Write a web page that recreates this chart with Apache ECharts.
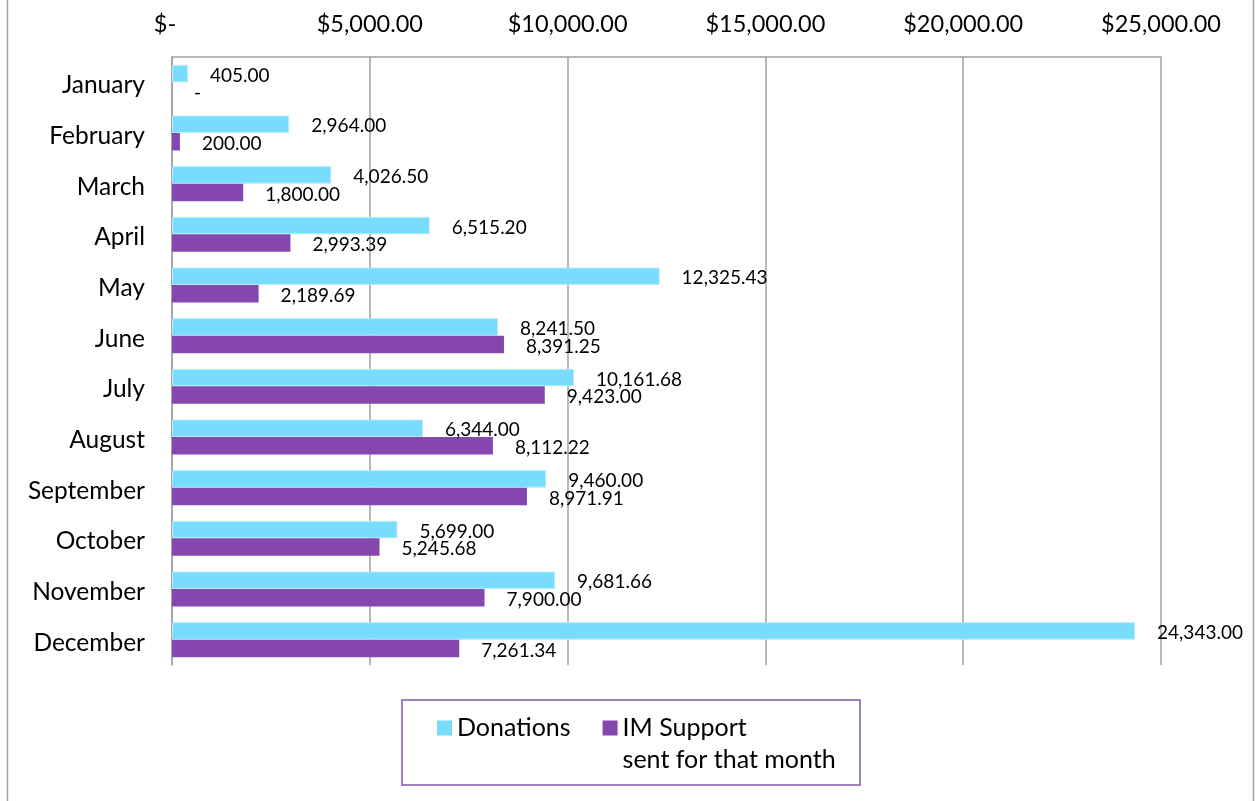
<!DOCTYPE html>
<html>
<head>
<meta charset="utf-8">
<script src="https://cdn.jsdelivr.net/npm/echarts@6/dist/echarts.min.js"></script>
<style>
  html, body { margin: 0; padding: 0; background: #fff; }
  #donations_chart { width: 1255px; height: 801px; }
</style>
</head>
<body>
<div id="donations_chart"></div>
<script>
// 月份 / categories
var months = ["January", "February", "March", "April", "May", "June", "July", "August", "September", "October", "November", "December"];
var donations = [405, 2964, 4026.5, 6515.2, 12325.43, 8241.5, 10161.68, 6344, 9460, 5699, 9681.66, 24343];
var imSupport = [0, 200, 1800, 2993.39, 2189.69, 8391.25, 9423, 8112.22, 8971.91, 5245.68, 7900, 7261.34];
var xTicks = [0, 5000, 10000, 15000, 20000, 25000];

var FONT = "Lato";

function money(v) {
  if (v === 0) return "-";
  return v.toLocaleString("en-US", { minimumFractionDigits: 2, maximumFractionDigits: 2 });
}

var chart = echarts.init(document.getElementById("donations_chart"));

var option = {
  backgroundColor: "#fff",
  textStyle: { fontFamily: FONT },
  animation: false,
  grid: {
    top: 57,
    left: 172,
    right: 94,
    bottom: 136,
    containLabel: false,
  },
  legend: {
    top: 680,
    left: 437,
    padding: 0,
    itemGap: 32,
    icon: "rect",
    itemWidth: 15,
    itemHeight: 15,
    itemStyle: { borderWidth: 0 },
    textStyle: {
      fontFamily: FONT,
      fontSize: 25,
      color: "#000",
      lineHeight: 32,
    },
    // 空的第一行让方块对齐第一行文字
    formatter: function (name) {
      if (name === "Donations") return "Donations";
      return "\nIM Support\nsent for that month";
    },
    data: ["Donations", "IM Support sent for that month"],
  },
  graphic: [
    {
      type: "rect",
      silent: true,
      shape: { x: 7.5, y: -5, width: 1246, height: 811 },
      style: { fill: "none", stroke: "#a0a0a0", lineWidth: 1.5 },
    },
    {
      type: "rect",
      silent: true,
      shape: { x: 402, y: 700, width: 458, height: 85 },
      style: { fill: "none", stroke: "#9e80c2", lineWidth: 2 },
    },
  ],
  xAxis: {
    type: "value",
    position: "top",
    min: xTicks[0],
    max: xTicks[xTicks.length - 1],
    interval: 5000,
    axisLine: {
      show: true,
      lineStyle: { color: "#a0a0a0", width: 1.5 },
    },
    axisTick: { show: false },
    splitLine: {
      show: true,
      lineStyle: { color: "#a0a0a0", width: 1.5 },
    },
    axisLabel: {
      margin: 21,
      fontFamily: FONT,
      fontSize: 23.5,
      color: "#000",
      formatter: function (v) {
        return v === 0 ? "{z|$-}" : "$" + money(v);
      },
      rich: {
        z: { fontFamily: FONT, fontSize: 23.5, color: "#000", padding: [0, 14, 0, 0] },
      },
    },
  },
  yAxis: {
    type: "category",
    inverse: true,
    data: months,
    axisLine: {
      show: true,
      lineStyle: { color: "#a0a0a0", width: 1.5 },
    },
    axisTick: { show: false },
    splitLine: { show: false },
    axisLabel: {
      margin: 27,
      color: "#000",
      formatter: function (v) {
        return "{m|" + v + "}";
      },
      rich: {
        // 往下挪一点，和参考图对齐
        m: { fontFamily: FONT, fontSize: 24.5, color: "#000", padding: [6, 0, 0, 0] },
      },
    },
  },
  series: [
    {
      name: "Donations",
      type: "bar",
      barGap: "0%",
      barCategoryGap: "31%",
      itemStyle: { color: "#78dcfc", borderColor: "#b5ecfd", borderWidth: 1 },
      label: {
        show: true,
        position: "right",
        distance: 22,
        offset: [0, 2],
        fontFamily: FONT,
        fontSize: 19,
        color: "#000",
        formatter: function (p) { return money(p.value); },
      },
      data: donations,
    },
    {
      name: "IM Support sent for that month",
      type: "bar",
      barGap: "0%",
      barCategoryGap: "31%",
      itemStyle: { color: "#8547ae" },
      label: {
        show: true,
        position: "right",
        distance: 22,
        offset: [0, 2],
        fontFamily: FONT,
        fontSize: 19,
        color: "#000",
        formatter: function (p) { return money(p.value); },
      },
      data: imSupport,
    },
  ],
};

chart.setOption(option);
</script>
</body>
</html>
